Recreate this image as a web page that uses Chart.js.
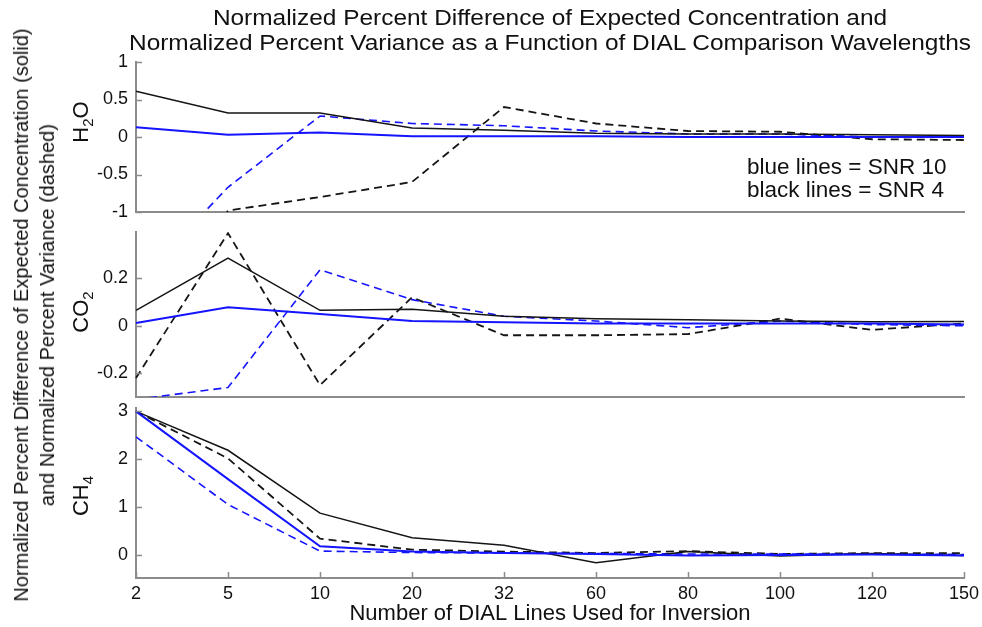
<!DOCTYPE html>
<html>
<head>
<meta charset="utf-8">
<script src="https://cdn.jsdelivr.net/npm/chart.js@4.4.1/dist/chart.umd.min.js"></script>
<style>
  body { margin: 0; background: #fff; font-family: "Liberation Sans", Arial, sans-serif; color: #111; }
  #wrap { position: relative; width: 982px; height: 627px; overflow: hidden; }
  canvas { position: absolute; left: 0; }
  .title { position: absolute; left: 0; top: 5px; width: 1100px; text-align: center; font-size: 22px; line-height: 25px; transform: scaleX(1.11); transform-origin: 550px 0; }
  .rot { position: absolute; white-space: nowrap; transform: translate(-50%, -50%) rotate(-90deg); text-align: center; }
  .ylabel { left: 34px; top: 315px; font-size: 20px; line-height: 26px; }
  .panel { left: 81px; font-size: 22px; line-height: 22px; }
  .panel sub { font-size: 15px; vertical-align: -5px; line-height: 0; }
  .note { position: absolute; left: 747px; top: 155px; font-size: 22.5px; line-height: 23px; }
</style>
</head>
<body>
<div id="wrap">
  <canvas id="c1" width="1000" height="190" style="top:42px"></canvas>
  <canvas id="c2" width="1000" height="205" style="top:212px"></canvas>
  <canvas id="c3" width="1000" height="239" style="top:388px"></canvas>
  <div class="title">Normalized Percent Difference of Expected Concentration and<br>Normalized Percent Variance as a Function of DIAL Comparison Wavelengths</div>
  <div class="rot ylabel">Normalized Percent Difference of Expected Concentration (solid)<br>and Normalized Percent Variance (dashed)</div>
  <div class="rot panel" style="top:122px">H<sub>2</sub>O</div>
  <div class="rot panel" style="top:312px">CO<sub>2</sub></div>
  <div class="rot panel" style="top:496px">CH<sub>4</sub></div>
  <div class="note">blue lines = SNR 10<br>black lines = SNR 4</div>
</div>
<script>
const dialLines = ["2", "5", "10", "20", "32", "60", "80", "100", "120", "150"];

// H2O panel
const h2oTicks = [-1, -0.5, 0, 0.5, 1];
const h2oBlueSolid = [0.13, 0.03, 0.06, 0.01, 0.01, 0.01, 0.0, 0.0, 0.0, 0.0];
const h2oBlackSolid = [0.61, 0.32, 0.32, 0.12, 0.09, 0.05, 0.04, 0.04, 0.03, 0.02];
const h2oBlueDashed = [-1.96, -0.67, 0.28, 0.18, 0.15, 0.08, 0.04, 0.04, 0.0, 0.0];
const h2oBlackDashed = [-3.0, -0.98, -0.8, -0.6, 0.4, 0.18, 0.08, 0.07, -0.03, -0.04];

// CO2 panel
const co2Ticks = [-0.2, 0, 0.2];
const co2BlueSolid = [0.012, 0.078, 0.05, 0.02, 0.015, 0.01, 0.01, 0.01, 0.01, 0.005];
const co2BlackSolid = [0.065, 0.285, 0.065, 0.07, 0.04, 0.03, 0.025, 0.02, 0.017, 0.018];
const co2BlueDashed = [-0.31, -0.26, 0.236, 0.11, 0.04, 0.02, -0.008, 0.02, 0.005, 0.0];
const co2BlackDashed = [-0.22, 0.39, -0.25, 0.12, -0.04, -0.04, -0.035, 0.03, -0.017, 0.01];

// CH4 panel
const ch4Ticks = [0, 1, 2, 3];
const ch4BlueSolid = [3.0, 1.59, 0.19, 0.08, 0.05, 0.03, 0.0, 0.01, 0.02, 0.0];
const ch4BlackSolid = [3.0, 2.19, 0.88, 0.37, 0.21, -0.15, 0.08, -0.01, 0.04, 0.0];
const ch4BlueDashed = [2.47, 1.06, 0.09, 0.06, 0.05, 0.04, 0.03, 0.03, 0.03, 0.02];
const ch4BlackDashed = [3.0, 2.02, 0.35, 0.12, 0.08, 0.05, 0.09, 0.03, 0.05, 0.05];

const BLUE = "#1414ff";
const BLACK = "#151515";
const AXIS = "#8c8c8c";
const FONT = '"Liberation Sans", Arial, sans-serif';

function lines(blueSolid, blackSolid, blueDashed, blackDashed) {
  // first dataset is drawn on top
  return [
    { data: blueSolid, borderColor: BLUE, borderWidth: 2 },
    { data: blackSolid, borderColor: BLACK, borderWidth: 1.5 },
    { data: blueDashed, borderColor: BLUE, borderWidth: 1.6, borderDash: [8, 5] },
    { data: blackDashed, borderColor: BLACK, borderWidth: 1.8, borderDash: [8, 5] },
  ];
}

// small inward tick marks like the original figure
const innerTicks = {
  id: "innerTicks",
  afterDraw(chart, args, opts) {
    const { ctx, chartArea, scales } = chart;
    ctx.save();
    ctx.strokeStyle = AXIS;
    ctx.lineWidth = 1.5;
    ctx.beginPath();
    scales.y.ticks.forEach((t) => {
      const y = Math.round(scales.y.getPixelForValue(t.value)) + 0.5;
      ctx.moveTo(chartArea.left, y);
      ctx.lineTo(chartArea.left + 6, y);
    });
    if (opts.xTicks) {
      scales.x.ticks.forEach((t, i) => {
        const x = Math.round(scales.x.getPixelForTick(i)) + 0.5;
        ctx.moveTo(x, chartArea.bottom);
        ctx.lineTo(x, chartArea.bottom - 6);
      });
    }
    ctx.stroke();
    ctx.restore();
  },
};

function createPanel(id, ticks, min, max, datasets, padBottom, showX) {
  new Chart(document.getElementById(id), {
    type: "line",
    data: { labels: dialLines, datasets: datasets },
    plugins: [innerTicks],
    options: {
      responsive: false,
      animation: false,
      devicePixelRatio: 1,
      // padding >= tick label overflow so the plot area lands where we want it
      layout: { padding: { top: 20, bottom: padBottom, left: 0, right: 36 } },
      elements: { point: { radius: 0 }, line: { tension: 0, fill: false } },
      plugins: {
        legend: { display: false },
        tooltip: { enabled: false },
        innerTicks: { xTicks: showX },
      },
      scales: {
        x: {
          offset: false,
          grid: { display: false, drawTicks: false },
          border: { display: true, color: AXIS, width: 2 },
          ticks: {
            display: showX,
            autoSkip: false,
            maxRotation: 0,
            padding: 5,
            color: "#111",
            font: { size: 18, family: FONT },
          },
          title: {
            display: showX,
            text: "Number of DIAL Lines Used for Inversion",
            color: "#111",
            padding: { top: 0, bottom: 0 },
            font: { size: 22, family: FONT },
          },
          afterFit: (s) => { s.height = showX ? 49 : 0; },
        },
        y: {
          min: min,
          max: max,
          grid: { display: false, drawTicks: false },
          border: { display: true, color: AXIS, width: 2 },
          afterBuildTicks: (s) => { s.ticks = ticks.map((v) => ({ value: v })); },
          afterFit: (s) => { s.width = 136; },
          ticks: {
            padding: 8,
            color: "#111",
            font: { size: 18, family: FONT },
            callback: (v) => String(v),
          },
        },
      },
    },
  });
}

createPanel("c1", h2oTicks, -1, 1,
  lines(h2oBlueSolid, h2oBlackSolid, h2oBlueDashed, h2oBlackDashed), 20, false);
createPanel("c2", co2Ticks, -0.3, 0.395,
  lines(co2BlueSolid, co2BlackSolid, co2BlueDashed, co2BlackDashed), 20, false);
createPanel("c3", ch4Ticks, -0.47, 3.07,
  lines(ch4BlueSolid, ch4BlackSolid, ch4BlueDashed, ch4BlackDashed), 0, true);
</script>
</body>
</html>
